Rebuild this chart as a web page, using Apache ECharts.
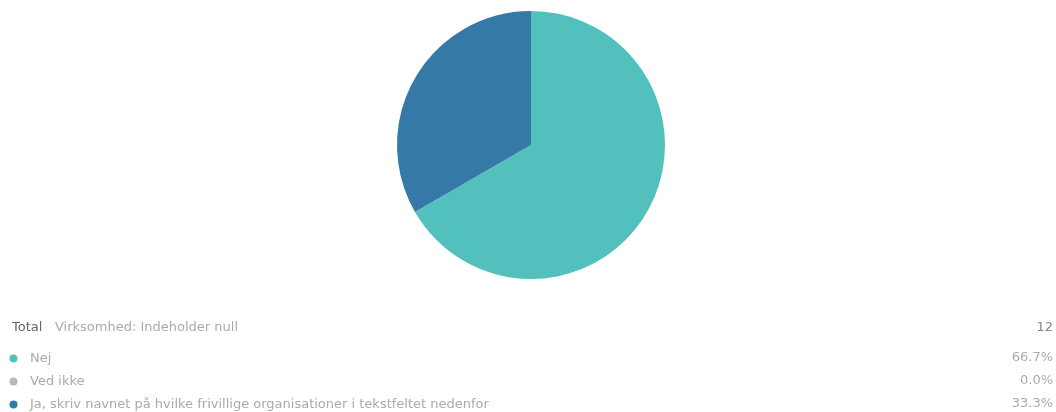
<!DOCTYPE html>
<html><head><meta charset="utf-8">
<script src="https://cdn.jsdelivr.net/npm/echarts@6/dist/echarts.min.js"></script>
<style>html,body{margin:0;padding:0;background:#fff}#c{width:1056px;height:412px}</style>
</head><body><div id="c"></div>
<script>
const categories = ["Nej", "Ved ikke", "Ja, skriv navnet på hvilke frivillige organisationer i tekstfeltet nedenfor"];
const counts = [8, 0, 4];
const colors = ["#52c1be", "#b9b9b9", "#3579a6"];
const headerLabel = "Total";
const headerFilter = "Virksomhed: Indeholder null";

const total = counts.reduce((a, b) => a + b, 0);
const pcts = counts.map(v => (total ? v / total * 100 : 0).toFixed(1) + "%");

const FONT = 'DejaVu Sans';
const FS = 13;
const LH = 12;
const chart = echarts.init(document.getElementById('c'));
const headerMid = 328, rowMid = 358, rowStep = 23;
const graphics = [
  {type:'text', left:12, top:headerMid - FS/2, style:{text:headerLabel, fontSize:FS, fill:'#666', fontFamily:FONT}},
  {type:'text', left:55, top:headerMid - FS/2, style:{text:headerFilter, fontSize:FS, fill:'#aaa', fontFamily:FONT}},
  {type:'text', right:3, top:headerMid - FS/2, style:{text:String(total), fontSize:FS, fill:'#888', fontFamily:FONT}}
];
pcts.forEach((p, i) => graphics.push({type:'text', right:3, top:rowMid - FS/2 + i*rowStep, style:{text:p, fontSize:FS, fill:'#aaa', fontFamily:FONT}}));

chart.setOption({
  animation:false,
  color: colors,
  legend:{
    orient:'vertical', left:9.5, top:rowMid - LH/2, height:120, padding:0, icon:'circle', itemWidth:8, itemHeight:8, itemGap:rowStep - 13,
    textStyle:{fontSize:FS, lineHeight:LH, color:'#aaa', fontFamily:FONT, padding:[0,0,0,7.5]},
    selectedMode:false, data: categories
  },
  graphic: graphics,
  series:[{
    type:'pie', center:[531,145], radius:[0,134], startAngle:90, clockwise:true,
    label:{show:false}, labelLine:{show:false}, silent:true,
    itemStyle:{borderWidth:0},
    data: categories.map((c, i) => ({name:c, value:counts[i]}))
  }]
});
</script></body></html>
